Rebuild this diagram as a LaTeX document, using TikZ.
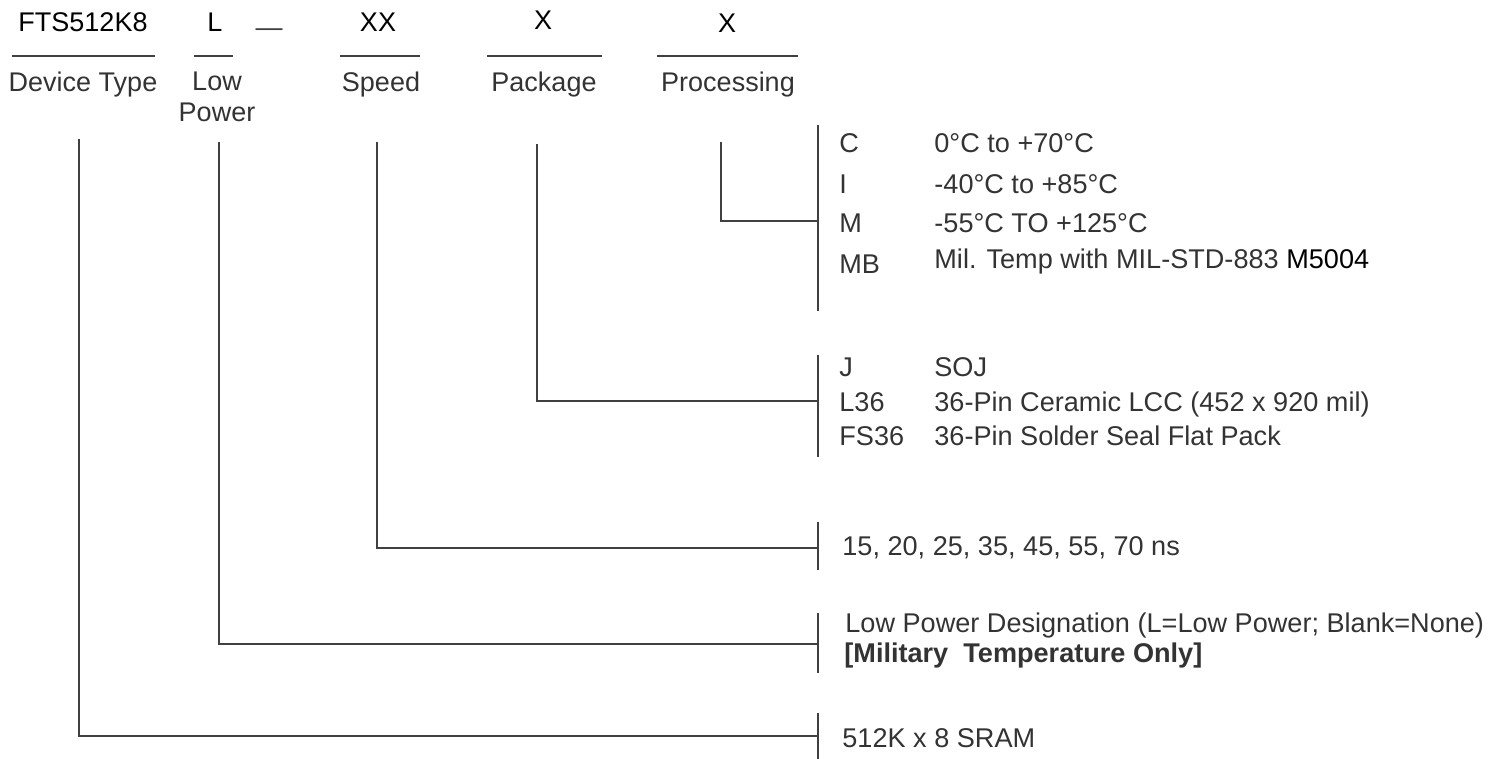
\documentclass[tikz,border=0pt]{standalone}
\usepackage{fontspec}
\setmainfont{Liberation Sans}
\definecolor{ink}{HTML}{333333}
\definecolor{wire}{HTML}{404040}

\begin{document}
\begin{tikzpicture}[
  x=0.5pt, y=-0.5pt,
  part/.style={font=\fontsize{13.5}{15}\selectfont, anchor=base, inner sep=0pt},
  field/.style={font=\fontsize{13.5}{15.5}\selectfont, text=ink, anchor=north, align=center, inner sep=0pt},
  opt/.style={font=\fontsize{13.55}{15}\selectfont, text=ink, anchor=base west, inner sep=0pt},
  rule/.style={-, line width=1pt, draw=wire},
  tie/.style={-, line width=1pt, draw=wire},
]
\useasboundingbox (0,0) rectangle (1502,759);

\def\CX{839}   % option code column
\def\DX{934}   % option text column
\def\BX{818}   % bracket line

% ── Part number ──
\node[part] (pdev)  at (83,32)  {FTS512K8};
\node[part] (plow)  at (215,32) {L};
\node[part, text=wire] (pdash) at (269,37) {—};
\node[part] (pspd)  at (378,32) {XX};
\node[part] (ppkg)  at (543,30) {X};
\node[part] (pproc) at (727,33) {X};

% underlines
\draw[rule] (12,56) -- (155,56);
\draw[rule] (194,56) -- (233,56);
\draw[rule] (340,56) -- (420,56);
\draw[rule] (487,56) -- (602,56);
\draw[rule] (657,56) -- (798,56);

% ── Field names ──
\node[field] (fdev)  at (83,72)  {Device Type};
\node[field] (flow)  at (217,72) {Low\\Power};
\node[field] (fspd)  at (381,72) {Speed};
\node[field] (fpkg)  at (544,72) {Package};
\node[field] (fproc) at (728,72) {Processing};

% ── Brackets ──
\draw[rule] (\BX,125) -- (\BX,311);
\draw[rule] (\BX,355) -- (\BX,457);
\draw[rule] (\BX,522) -- (\BX,570);
\draw[rule] (\BX,613) -- (\BX,673);
\draw[rule] (\BX,713) -- (\BX,759);

% ── Processing ──
\node[opt] (cC)  at (\CX,153) {C};
\node[opt] (dC)  at (\DX,153) {0°C to +70°C};
\node[opt] (cI)  at (\CX,193) {I};
\node[opt] (dI)  at (\DX,193) {-40°C to +85°C};
\node[opt] (cM)  at (\CX,232) {M};
\node[opt] (dM)  at (\DX,232) {-55°C TO +125°C};
\node[opt] (cMB) at (\CX,273) {MB};
\node[opt] (dMB) at (\DX,268) {Mil. Temp with MIL-STD-883 \textcolor{black}{M5004}};

% ── Package ──
\node[opt] (cJ)   at (\CX,376) {J};
\node[opt] (dJ)   at (\DX,376) {SOJ};
\node[opt] (cL36) at (\CX,411) {L36};
\node[opt] (dL36) at (\DX,411) {36-Pin Ceramic LCC (452 x 920 mil)};
\node[opt] (cFS)  at (\CX,445) {FS36};
\node[opt] (dFS)  at (\DX,445) {36-Pin Solder Seal Flat Pack};

% ── Speed, power, device ──
\node[opt] (dspd) at (842,555) {15, 20, 25, 35, 45, 55, 70 ns};
\node[opt] (dlow) at (845,632) {Low Power Designation (L=Low Power; Blank=None)};
\node[opt, font=\fontsize{13.55}{15}\selectfont\bfseries] (dmil) at (844,662) {[Military\ \ Temperature Only]};
\node[opt] (ddev) at (842,747) {512K x 8 SRAM};

% ── Tie lines: field -> bracket ──
\foreach \n/\x/\y/\t in {proc/721/221/142, pkg/537/401/144, spd/377/548/142, low/219/644/142, dev/79/736/139} {
  \coordinate (t\n) at (\x,\t);
  \coordinate (k\n) at (\BX,\y);
  \draw[tie] (t\n) |- (k\n);
}

\end{tikzpicture}
\end{document}
